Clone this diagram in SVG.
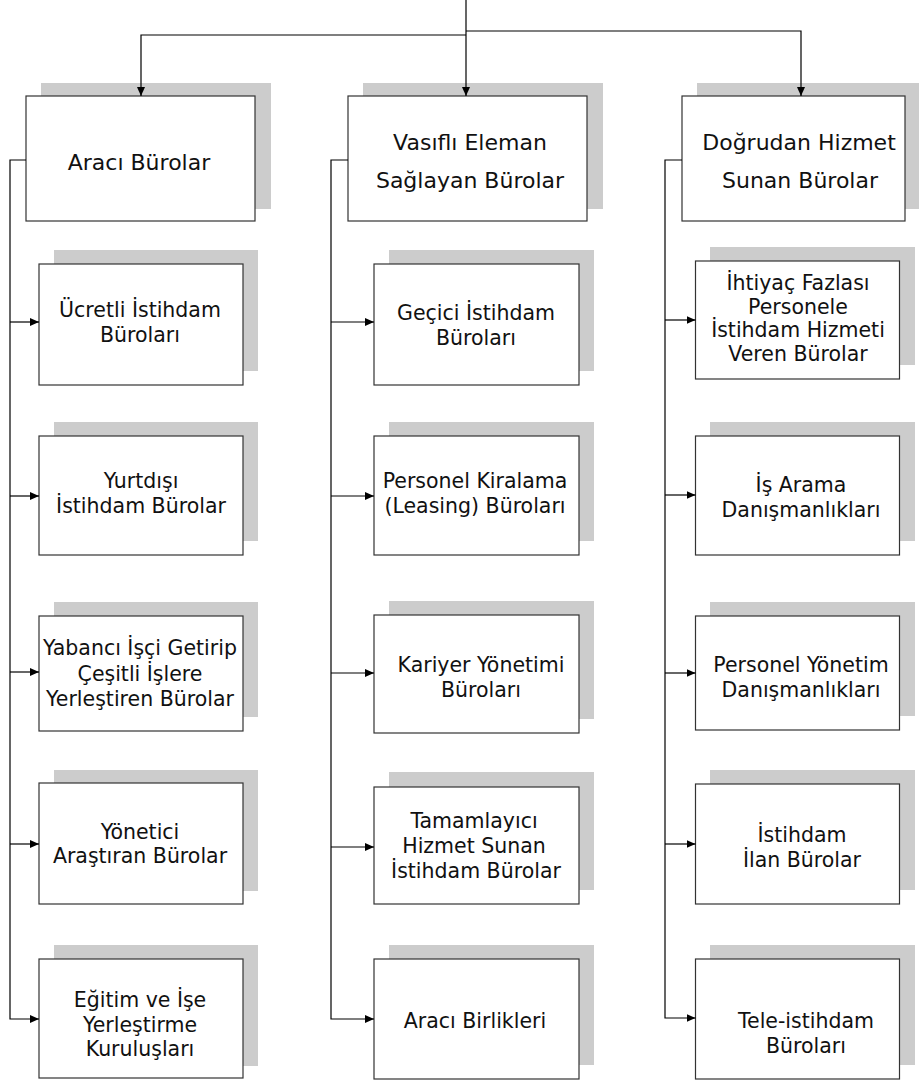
<svg xmlns="http://www.w3.org/2000/svg" width="920" height="1082" viewBox="0 0 920 1082">
<style>
.sh{fill:#cccccc;stroke:none}
.bx{fill:#ffffff;stroke:#333333;stroke-width:1.2}
.ln{fill:none;stroke:#000000;stroke-width:1.2}
.h{font-family:"DejaVu Sans",sans-serif;font-size:22px;fill:#111;text-anchor:middle}
.t{font-family:"DejaVu Sans",sans-serif;font-size:20.5px;fill:#111;text-anchor:middle}
</style>
<defs>
<marker id="ar" markerUnits="userSpaceOnUse" markerWidth="10" markerHeight="8" refX="9" refY="4" orient="auto">
<path d="M0,0 L9,4 L0,8 z" fill="#000"/>
</marker>
</defs>
<rect width="920" height="1082" fill="#ffffff"/>

<!-- header nodes -->
<g id="h1">
<rect class="sh" x="41" y="83" width="230" height="126"/>
<rect class="bx" x="26" y="96" width="229" height="125"/>
<text class="h" x="139" y="170">Aracı Bürolar</text>
</g>
<g id="h2">
<rect class="sh" x="363" y="83" width="240" height="126"/>
<rect class="bx" x="348" y="96" width="239" height="125"/>
<text class="h" x="470" y="150">Vasıflı Eleman</text>
<text class="h" x="470" y="188">Sağlayan Bürolar</text>
</g>
<g id="h3">
<rect class="sh" x="697" y="83" width="222" height="126"/>
<rect class="bx" x="682" y="96" width="223" height="125"/>
<text class="h" x="799" y="150">Doğrudan Hizmet</text>
<text class="h" x="800" y="188">Sunan Bürolar</text>
</g>

<!-- column 1 -->
<g id="c1n1">
<rect class="sh" x="54" y="250" width="204" height="121"/>
<rect class="bx" x="39" y="264" width="204" height="121"/>
<text class="t" x="140" y="317">Ücretli İstihdam</text>
<text class="t" x="140" y="342">Büroları</text>
</g>
<g id="c1n2">
<rect class="sh" x="54" y="422" width="204" height="119"/>
<rect class="bx" x="39" y="436" width="204" height="119"/>
<text class="t" x="141" y="488">Yurtdışı</text>
<text class="t" x="141" y="513">İstihdam Bürolar</text>
</g>
<g id="c1n3">
<rect class="sh" x="54" y="602" width="204" height="115"/>
<rect class="bx" x="39" y="616" width="204" height="115"/>
<text class="t" x="140" y="655">Yabancı İşçi Getirip</text>
<text class="t" x="140" y="681">Çeşitli İşlere</text>
<text class="t" x="140" y="706">Yerleştiren Bürolar</text>
</g>
<g id="c1n4">
<rect class="sh" x="54" y="770" width="204" height="121"/>
<rect class="bx" x="39" y="783" width="204" height="121"/>
<text class="t" x="140" y="839">Yönetici</text>
<text class="t" x="140" y="863">Araştıran Bürolar</text>
</g>
<g id="c1n5">
<rect class="sh" x="54" y="945" width="204" height="121"/>
<rect class="bx" x="39" y="959" width="204" height="119"/>
<text class="t" x="140" y="1007">Eğitim ve İşe</text>
<text class="t" x="140" y="1032">Yerleştirme</text>
<text class="t" x="140" y="1056">Kuruluşları</text>
</g>

<!-- column 2 -->
<g id="c2n1">
<rect class="sh" x="389" y="250" width="205" height="121"/>
<rect class="bx" x="374" y="264" width="205" height="121"/>
<text class="t" x="476" y="320">Geçici İstihdam</text>
<text class="t" x="476" y="345">Büroları</text>
</g>
<g id="c2n2">
<rect class="sh" x="389" y="422" width="205" height="119"/>
<rect class="bx" x="374" y="436" width="205" height="119"/>
<text class="t" x="475" y="488">Personel Kiralama</text>
<text class="t" x="475" y="513">(Leasing) Büroları</text>
</g>
<g id="c2n3">
<rect class="sh" x="389" y="601" width="205" height="118"/>
<rect class="bx" x="374" y="615" width="205" height="118"/>
<text class="t" x="481" y="672">Kariyer Yönetimi</text>
<text class="t" x="481" y="697">Büroları</text>
</g>
<g id="c2n4">
<rect class="sh" x="389" y="772" width="205" height="118"/>
<rect class="bx" x="374" y="787" width="205" height="117"/>
<text class="t" x="474" y="828">Tamamlayıcı</text>
<text class="t" x="474" y="853">Hizmet Sunan</text>
<text class="t" x="476" y="878">İstihdam Bürolar</text>
</g>
<g id="c2n5">
<rect class="sh" x="389" y="945" width="205" height="120"/>
<rect class="bx" x="374" y="959" width="205" height="120"/>
<text class="t" x="475" y="1028">Aracı Birlikleri</text>
</g>

<!-- column 3 -->
<g id="c3n1">
<rect class="sh" x="710" y="247" width="205" height="118"/>
<rect class="bx" x="695.5" y="261" width="204" height="118"/>
<text class="t" x="798" y="290">İhtiyaç Fazlası</text>
<text class="t" x="798" y="314">Personele</text>
<text class="t" x="798" y="337">İstihdam Hizmeti</text>
<text class="t" x="798" y="361">Veren Bürolar</text>
</g>
<g id="c3n2">
<rect class="sh" x="710" y="422" width="205" height="119"/>
<rect class="bx" x="695.5" y="436" width="204" height="119"/>
<text class="t" x="801" y="492">İş Arama</text>
<text class="t" x="801" y="517">Danışmanlıkları</text>
</g>
<g id="c3n3">
<rect class="sh" x="710" y="602" width="205" height="114"/>
<rect class="bx" x="695.5" y="616" width="204" height="114"/>
<text class="t" x="801" y="672">Personel Yönetim</text>
<text class="t" x="801" y="697">Danışmanlıkları</text>
</g>
<g id="c3n4">
<rect class="sh" x="710" y="770" width="205" height="120"/>
<rect class="bx" x="695.5" y="784" width="204" height="120"/>
<text class="t" x="802" y="842">İstihdam</text>
<text class="t" x="802" y="867">İlan Bürolar</text>
</g>
<g id="c3n5">
<rect class="sh" x="710" y="945" width="205" height="120"/>
<rect class="bx" x="695.5" y="959" width="204" height="120"/>
<text class="t" x="806" y="1028">Tele-istihdam</text>
<text class="t" x="806" y="1053">Büroları</text>
</g>

<!-- connectors -->
<g id="connectors">
<path class="ln" d="M466,0 V96" marker-end="url(#ar)"/>
<path class="ln" d="M466,35 H141 V96" marker-end="url(#ar)"/>
<path class="ln" d="M466,31 H801 V96" marker-end="url(#ar)"/>

<path class="ln" d="M26,160 H10 V1019 H39" marker-end="url(#ar)"/>
<path class="ln" d="M10,322 H39" marker-end="url(#ar)"/>
<path class="ln" d="M10,496 H39" marker-end="url(#ar)"/>
<path class="ln" d="M10,672 H39" marker-end="url(#ar)"/>
<path class="ln" d="M10,844 H39" marker-end="url(#ar)"/>

<path class="ln" d="M348,160 H331 V1019 H374" marker-end="url(#ar)"/>
<path class="ln" d="M331,322 H374" marker-end="url(#ar)"/>
<path class="ln" d="M331,496 H374" marker-end="url(#ar)"/>
<path class="ln" d="M331,673 H374" marker-end="url(#ar)"/>
<path class="ln" d="M331,847 H374" marker-end="url(#ar)"/>

<path class="ln" d="M682,160 H665 V1018 H695.5" marker-end="url(#ar)"/>
<path class="ln" d="M665,320 H695.5" marker-end="url(#ar)"/>
<path class="ln" d="M665,495 H695.5" marker-end="url(#ar)"/>
<path class="ln" d="M665,673 H695.5" marker-end="url(#ar)"/>
<path class="ln" d="M665,844 H695.5" marker-end="url(#ar)"/>
</g>
</svg>
